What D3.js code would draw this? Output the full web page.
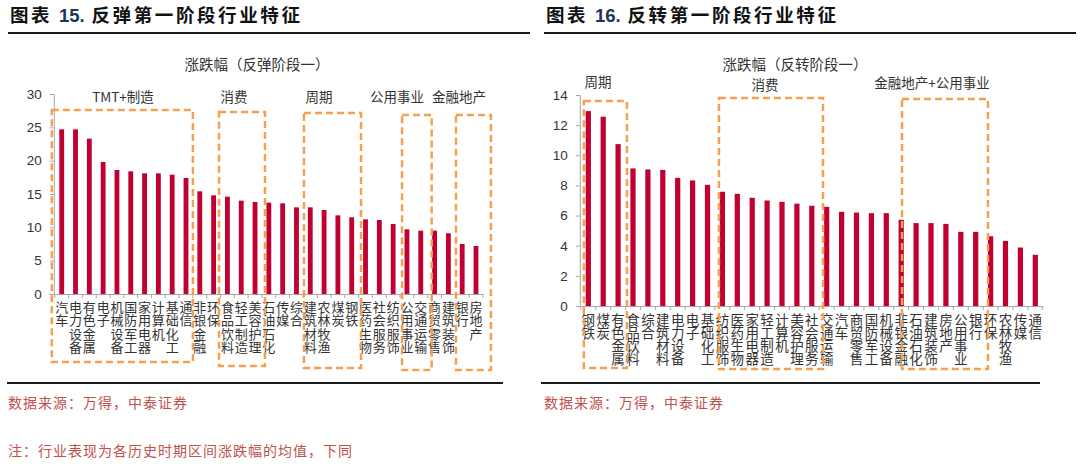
<!DOCTYPE html>
<html><head><meta charset="utf-8">
<script src="https://cdn.jsdelivr.net/npm/d3@7"></script>
<style>body{margin:0;background:#fff}svg{display:block}</style>
</head><body>
<svg id="c" width="1080" height="464"></svg>
<script>
// ---------- DATA ----------
const leftCategories = ["汽车","电力设备","有色金属","电子","机械设备","国防军工","家用电器","计算机","基础化工","通信",
  "非银金融","环保","食品饮料","轻工制造","美容护理","石油石化","传媒","综合","建筑材料","农林牧渔","煤炭","钢铁",
  "医药生物","社会服务","纺织服饰","公用事业","交通运输","商贸零售","建筑装饰","银行","房地产"];
const leftValues = [24.7,24.7,23.3,19.8,18.6,18.4,18.1,18.1,17.9,17.4,15.4,14.8,14.6,14.0,13.8,13.7,13.6,13.0,13.0,12.6,11.8,11.5,11.2,11.1,10.5,9.7,9.5,9.5,9.1,7.5,7.2];
const leftTicks = [0,5,10,15,20,25,30];
const leftGroups = [["TMT+制造","汽车","通信"],["消费","食品饮料","美容护理"],["周期","建筑材料","钢铁"],["公用事业","公用事业","交通运输"],["金融地产","银行","房地产"]];

const rightCategories = ["钢铁","煤炭","有色金属","食品饮料","综合","建筑材料","电力设备","电子","基础化工",
  "纺织服饰","医药生物","家用电器","轻工制造","计算机","美容护理","社会服务","交通运输","汽车","商贸零售","国防军工","机械设备",
  "非银金融","石油石化","建筑装饰","房地产","公用事业","银行","环保","农林牧渔","传媒","通信"];
const rightValues = [12.93,12.56,10.74,9.13,9.06,9.03,8.5,8.33,8.04,7.58,7.44,7.18,7.0,6.91,6.79,6.65,6.58,6.25,6.2,6.16,6.16,5.72,5.5,5.5,5.45,4.92,4.92,4.63,4.32,3.88,3.4];
const rightTicks = [0,2,4,6,8,10,12,14];
const rightGroups = [["周期","钢铁","有色金属"],["消费","纺织服饰","社会服务"],["金融地产+公用事业","非银金融","银行"]];

// ---------- LAYOUT ----------
const svg = d3.select("#c");
const BAR = "#c00030", BOX = "#f5a04e", AX = "#a6a6a6", TXT = "#333";
const CJK = "'Noto Sans CJK SC','Noto Sans',sans-serif";

function panel(cfg){
  const g = svg.append("g");
  // header
  const h = g.append("text").attr("x", cfg.hx).attr("y", 22).attr("font-size", 18.5).attr("font-weight", "bold")
    .attr("letter-spacing", 2.6).attr("font-family", CJK).attr("fill", "#111");
  h.append("tspan").text("图表 ");
  h.append("tspan").attr("font-family","'Liberation Sans',Arial,sans-serif").attr("letter-spacing", 0).attr("fill","#1d3557").text(cfg.num);
  h.append("tspan").text(" " + cfg.head);
  g.append("line").attr("x1", cfg.lineX[0]).attr("x2", cfg.lineX[1]).attr("y1", 33).attr("y2", 33).attr("stroke", "#1a1a1a").attr("stroke-width", 2);
  g.append("line").attr("x1", cfg.botX[0]).attr("x2", cfg.botX[1]).attr("y1", 383).attr("y2", 383).attr("stroke", "#1a1a1a").attr("stroke-width", 2);
  g.append("text").attr("x", cfg.hx - 2).attr("y", 408).attr("font-size", 14).attr("letter-spacing", 1).attr("font-family", CJK).attr("fill", "#c0504d").text("数据来源：万得，中泰证券");

  // chart title
  g.append("text").attr("x", cfg.titleX).attr("y", 70).attr("text-anchor", "middle").attr("font-size", 14.5).attr("font-family", CJK).attr("fill", TXT).text(cfg.title);

  const x = d3.scaleBand().domain(cfg.cats).range(cfg.xr).padding(0);
  const y = d3.scaleLinear().domain([0, d3.max(cfg.ticks)]).range(cfg.yr);
  const step = x.step(), bw = step * 0.35;

  // y axis
  const ya = g.append("g").attr("transform", `translate(${cfg.xr[0] - 1},0)`)
    .call(d3.axisLeft(y).tickValues(cfg.ticks).tickSize(4).tickPadding(8));
  ya.select(".domain").attr("stroke", AX);
  ya.selectAll(".tick line").attr("stroke", AX);
  ya.selectAll("text").attr("font-size", 13.5).attr("font-family", "'Liberation Sans',Arial,sans-serif").attr("fill", TXT);

  // x axis line + ticks
  const xa = g.append("g").attr("transform", `translate(0,${cfg.yr[0]})`)
    .call(d3.axisBottom(x).tickSize(0).tickFormat(""));
  xa.select(".domain").attr("stroke", AX);
  xa.selectAll(".tick").remove();
  g.selectAll(".xt").data(d3.range(cfg.cats.length + 1)).join("line")
    .attr("x1", i => cfg.xr[0] + i * step).attr("x2", i => cfg.xr[0] + i * step)
    .attr("y1", cfg.yr[0]).attr("y2", cfg.yr[0] + 4).attr("stroke", AX);

  // bars
  g.selectAll(".bar").data(cfg.vals).join("rect")
    .attr("x", (d, i) => x(cfg.cats[i]) + (step - bw) / 2)
    .attr("width", bw)
    .attr("y", d => y(d)).attr("height", d => y(0) - y(d))
    .attr("fill", BAR);

  // x labels (vertical text)
  g.selectAll(".xl").data(cfg.cats).join("text")
    .attr("x", c => x(c) + step / 2).attr("y", cfg.yr[0] + cfg.lOff)
    .style("writing-mode", "vertical-rl").style("text-orientation", "upright")
    .attr("letter-spacing", cfg.lsp)
    .attr("font-size", cfg.lfs).attr("font-family", CJK).attr("fill", TXT).text(c => c);

  // group boxes
  cfg.groups.forEach((gr, i) => {
    const L = cfg.boxL[i];
    const x0 = x(gr[1]) + L[0], x1 = x(gr[2]) + step + L[1];
    g.append("rect").attr("x", x0).attr("y", L[2]).attr("width", x1 - x0).attr("height", L[3] - L[2])
      .attr("fill", "none").attr("stroke", BOX).attr("stroke-width", 2.5).attr("stroke-dasharray", "7,4");
    g.append("text").attr("x", L[4]).attr("y", L[5]).attr("text-anchor", "middle").attr("font-size", 13.5)
      .attr("font-family", CJK).attr("fill", TXT).text(gr[0]);
  });
}

panel({hx: 10, num: "15.", head: "反弹第一阶段行业特征", lineX: [8, 530], botX: [7, 503],
  title: "涨跌幅（反弹阶段一）", titleX: 257,
  cats: leftCategories, vals: leftValues, ticks: leftTicks, groups: leftGroups,
  xr: [54.8, 482.9], yr: [294, 94], lfs: 13, lOff: 6.5, lsp: 0.5,
  boxL: [[-3, 0, 110, 362, 123, 102], [-1.5, 3, 112, 366, 234, 102], [0.6, 2.4, 113, 368, 319, 102], [2, 4, 115, 370, 397, 102], [0.7, 8, 115, 370, 459, 102]]});

panel({hx: 546, num: "16.", head: "反转第一阶段行业特征", lineX: [544, 1076], botX: [541, 1040],
  title: "涨跌幅（反转阶段一）", titleX: 795,
  cats: rightCategories, vals: rightValues, ticks: rightTicks, groups: rightGroups,
  xr: [580.85, 1042.75], yr: [306, 95], lfs: 13.5, lOff: 7, lsp: -0.6,
  boxL: [[3, 1.4, 101, 368, 598, 87], [4, 3.75, 98, 369, 765, 90], [8.25, 4.8, 99, 369, 932, 88]]});

svg.append("text").attr("x", 8).attr("y", 456).attr("font-size", 14).attr("letter-spacing", 1).attr("font-family", CJK).attr("fill", "#c0504d").text("注：行业表现为各历史时期区间涨跌幅的均值，下同");
</script>
</body></html>
